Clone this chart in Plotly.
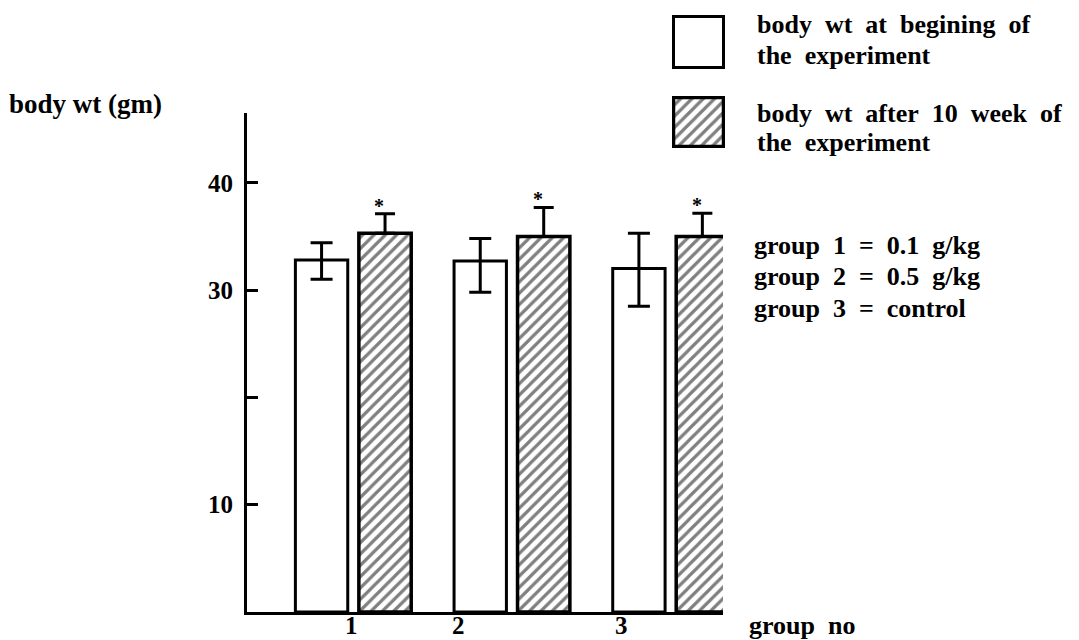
import plotly.graph_objects as go

# ---- data ----
groups = [1, 2, 3]
group_labels = ["1", "2", "3"]
begin_wt = [32.8, 32.7, 32.0]
begin_err_plus = [1.6, 2.1, 3.3]
begin_err_minus = [1.8, 2.9, 3.5]
after_wt = [35.3, 35.0, 35.0]
after_err_plus = [1.8, 2.7, 2.15]
after_err_minus = [0, 0, 0]
significance = ["*", "*", "*"]
ytick_vals = [10, 20, 30, 40]
ytick_text = ["10", "", "30", "40"]
legend_begin = ["body wt at begining of", "the experiment"]
legend_after = ["body wt after 10 week of", "the experiment"]
group_notes = ["group 1 = 0.1 g/kg", "group 2 = 0.5 g/kg", "group 3 = control"]

OFF = 8  # page body margin
W, H = 1079 - OFF, 640 - OFF
FONT = "Liberation Serif"
BAR_W = 0.33
X_RANGE = [0.33, 3.33]
X_DOMAIN_PX = [247, 723]


def fx(p):
    return (p - OFF) / W


def fy(p):
    return 1 - (p - OFF) / H


def data_to_paper_x(v):
    d0, d1 = fx(X_DOMAIN_PX[0]), fx(X_DOMAIN_PX[1])
    return d0 + (v - X_RANGE[0]) / (X_RANGE[1] - X_RANGE[0]) * (d1 - d0)


def spaced(s):
    return "\u00a0\u00a0".join(s.split(" "))


def tfont(size):
    return dict(family=FONT, size=size, color="black", weight="bold")


HATCH = dict(shape="/", fgcolor="black", bgcolor="white", size=8, solidity=0.4)

fig = go.Figure()

fig.add_trace(go.Bar(
    x=groups, y=begin_wt, offsetgroup="a", width=BAR_W,
    marker=dict(color="white", line=dict(color="black", width=3)),
    error_y=dict(type="data", symmetric=False, array=begin_err_plus,
                 arrayminus=begin_err_minus, color="black", thickness=3, width=11),
    xaxis="x", yaxis="y",
))
fig.add_trace(go.Bar(
    x=groups, y=after_wt, offsetgroup="b", width=BAR_W,
    marker=dict(color="white", line=dict(color="black", width=3.5), pattern=HATCH),
    error_y=dict(type="data", symmetric=False, array=after_err_plus,
                 arrayminus=after_err_minus, color="black", thickness=3, width=10),
    xaxis="x", yaxis="y",
))

# legend swatches
fig.add_trace(go.Bar(
    x=[0], y=[1], width=1,
    marker=dict(color="white", line=dict(color="black", width=3)),
    xaxis="x2", yaxis="y2",
))
fig.add_trace(go.Bar(
    x=[0], y=[1], width=1,
    marker=dict(color="white", line=dict(color="black", width=3.5), pattern=HATCH),
    xaxis="x3", yaxis="y3",
))

xtick_pos = [g + d for g, d in zip(groups, [-0.01, -0.34, -0.31])]

fig.update_layout(
    width=W, height=H,
    margin=dict(l=0, r=0, t=0, b=0),
    paper_bgcolor="white", plot_bgcolor="white",
    showlegend=False,
    barmode="group",
    font=tfont(25),
    xaxis=dict(domain=[fx(X_DOMAIN_PX[0]), fx(X_DOMAIN_PX[1])], range=X_RANGE,
               type="linear", showline=True, linecolor="black", linewidth=3,
               showgrid=False, zeroline=False, ticks="", showticklabels=False,
               automargin=False, anchor="y"),
    yaxis=dict(domain=[fy(612), fy(113)], range=[0, 46.5],
               showline=True, linecolor="black", linewidth=3, showgrid=False,
               zeroline=False, ticks="inside", ticklen=11, tickwidth=2.5,
               tickcolor="black", tickvals=ytick_vals, ticktext=ytick_text,
               tickfont=tfont(25), ticklabelstandoff=6, automargin=False, anchor="x"),
    xaxis2=dict(domain=[fx(672), fx(725)], range=[-0.53, 0.53], visible=False, anchor="y2"),
    yaxis2=dict(domain=[fy(69), fy(15)], range=[-0.03, 1.03], visible=False, anchor="x2"),
    xaxis3=dict(domain=[fx(672), fx(725)], range=[-0.53, 0.53], visible=False, anchor="y3"),
    yaxis3=dict(domain=[fy(148), fy(96)], range=[-0.03, 1.03], visible=False, anchor="x3"),
)

annos = []
# significance stars above the hatched bars' error bars
for g, v, e, s in zip(groups, after_wt, after_err_plus, significance):
    annos.append(dict(text=s, x=g + BAR_W / 2, y=v + e, xref="x", yref="y",
                      xanchor="center", yanchor="bottom", yshift=-5,
                      showarrow=False, font=tfont(20)))

paper = []
# group tick labels under the x axis
for xp, lab in zip(xtick_pos, group_labels):
    paper.append(dict(text=lab, x=data_to_paper_x(xp), y=fy(625), xanchor="center",
                      yanchor="middle", font=tfont(25)))
paper.append(dict(text="body wt (gm)", x=fx(7), y=fy(104), xanchor="left",
                  yanchor="middle", font=tfont(27)))
paper.append(dict(text=spaced("group no"), x=fx(747), y=fy(625), xanchor="left",
                  yanchor="middle", font=tfont(26)))
for txt, yc in zip(legend_begin + legend_after, [24, 56, 113, 142]):
    paper.append(dict(text=spaced(txt), x=fx(755), y=fy(yc), xanchor="left",
                      yanchor="middle", font=tfont(26)))
for txt, yc in zip(group_notes, [245, 276, 308]):
    paper.append(dict(text=spaced(txt), x=fx(752), y=fy(yc), xanchor="left",
                      yanchor="middle", font=tfont(26)))
for a in paper:
    a.update(xref="paper", yref="paper", showarrow=False)
fig.update_layout(annotations=annos + paper)

fig.write_html("out.html")
